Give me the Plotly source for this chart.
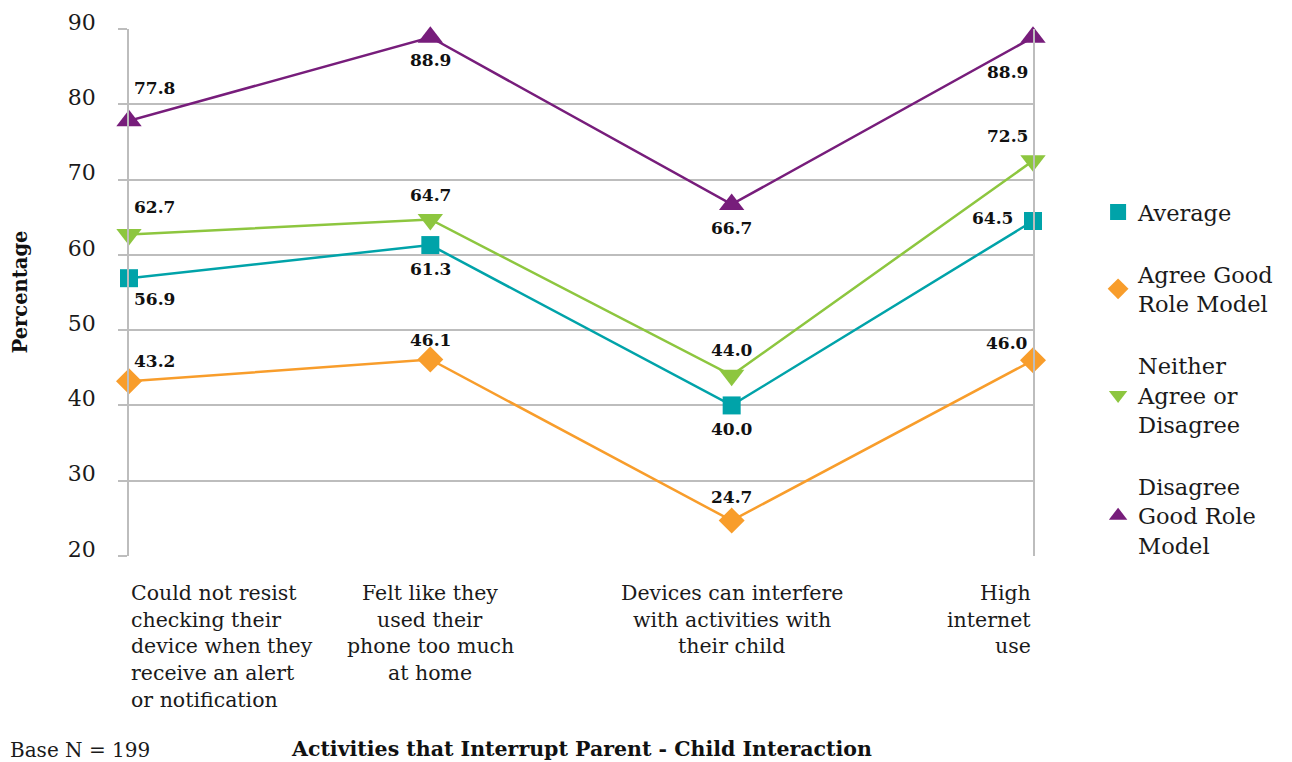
import plotly.graph_objects as go

# ---- data ----
categories = [
    "Could not resist<br>checking their<br>device when they<br>receive an alert<br>or notification",
    "Felt like they<br>used their<br>phone too much<br>at home",
    "Devices can interfere<br>with activities with<br>their child",
    "High<br>internet<br>use",
]
series_names = [
    "Average",
    "Agree Good<br>Role Model",
    "Neither<br>Agree or<br>Disagree",
    "Disagree<br>Good Role<br>Model",
]
average = [56.9, 61.3, 40.0, 64.5]
agree_good = [43.2, 46.1, 24.7, 46.0]
neither = [62.7, 64.7, 44.0, 72.5]
disagree_good = [77.8, 88.9, 66.7, 88.9]
y_tick_values = [20, 30, 40, 50, 60, 70, 80, 90]
y_title = "Percentage"
x_title = "Activities that Interrupt Parent - Child Interaction"
base_note = "Base N = 199"

# ---- styles ----
FONT = "DejaVu Serif"
colors = ["#00A3A9", "#F89D2B", "#8DC63F", "#771D7B"]
symbols = ["square", "diamond", "triangle-down", "triangle-up"]
sizes = [18, 20, 22, 22]
series_values = [average, agree_good, neither, disagree_good]
# (xanchor, xshift, yshift) for each point's data label
label_pos = [
    [("left", 3, -21), ("center", 0, -24), ("center", 0, -24), ("right", -18, 3)],
    [("left", 3, 20), ("center", 0, 20), ("center", 0, 24), ("right", -3, 17)],
    [("left", 3, 28), ("center", 0, 24), ("center", 0, 25), ("right", -3, 25)],
    [("left", 3, 33), ("center", 0, -23), ("center", 0, -24), ("right", -3, -35)],
]
cat_anchor = ["left", "center", "center", "right"]

fig = go.Figure()
annotations = []

for i in range(4):
    fig.add_trace(go.Scatter(
        x=categories, y=series_values[i], mode="lines+markers",
        line=dict(color=colors[i], width=2.5),
        marker=dict(symbol=symbols[i], size=sizes[i], color=colors[i]),
        showlegend=False, cliponaxis=False, hoverinfo="skip",
    ))
    # legend-only trace (marker only)
    fig.add_trace(go.Scatter(
        x=[None], y=[None], mode="markers", name=series_names[i],
        marker=dict(symbol=symbols[i], size=sizes[i], color=colors[i]),
        legendgroup=f"g{i}", showlegend=True,
    ))
    for j, v in enumerate(series_values[i]):
        xa, xs, ys = label_pos[i][j]
        annotations.append(dict(
            x=categories[j], y=v, xref="x", yref="y", text=f"{v:.1f}",
            showarrow=False, xanchor=xa, yanchor="middle", xshift=xs, yshift=ys,
            font=dict(family=FONT, size=17, color="#111111", weight="bold"),
        ))

# category labels, one annotation per line for wider line spacing
for j, cat in enumerate(categories):
    for k, line in enumerate(cat.split("<br>")):
        annotations.append(dict(
            x=categories[j], y=0, xref="x", yref="paper", text=line,
            showarrow=False, xanchor=cat_anchor[j], yanchor="middle",
            yshift=-37 - k * 26.7,
            font=dict(family=FONT, size=20.5, color="#1a1a1a"),
        ))

annotations.append(dict(
    x=0, y=0.5, xref="paper", yref="paper", text=y_title, textangle=-90,
    showarrow=False, xanchor="center", yanchor="middle", xshift=-109, yshift=0,
    font=dict(family=FONT, size=19.5, color="#111111", weight="bold"),
))
annotations.append(dict(
    x=0.5, y=0, xref="paper", yref="paper", text=x_title,
    showarrow=False, xanchor="center", yanchor="middle", yshift=-193,
    font=dict(family=FONT, size=20.5, color="#111111", weight="bold"),
))
annotations.append(dict(
    x=0, y=0, xref="paper", yref="paper", text=base_note,
    showarrow=False, xanchor="left", yanchor="middle", xshift=-121, yshift=-194,
    font=dict(family=FONT, size=20, color="#1a1a1a"),
))

fig.update_layout(
    width=1284, height=754,
    margin=dict(l=121, r=259, t=21, b=206, autoexpand=False),
    paper_bgcolor="white", plot_bgcolor="white",
    font=dict(family=FONT, size=20, color="#1a1a1a"),
    annotations=annotations,
    legend=dict(
        x=1.072, y=0.693, xanchor="left", yanchor="top",
        font=dict(family=FONT, size=22.5, color="#1a1a1a"),
        tracegroupgap=30, itemsizing="trace", bgcolor="rgba(0,0,0,0)",
    ),
    xaxis=dict(
        type="category", range=[0, 3], showticklabels=False, showgrid=False,
        zeroline=False, showline=False, ticks="", automargin=False,
    ),
    yaxis=dict(
        range=[20, 90], tickvals=y_tick_values, showgrid=True,
        gridcolor="#BDBDBD", gridwidth=1.5, zeroline=False,
        showline=True, linecolor="#BDBDBD", linewidth=1.5, mirror=True,
        ticks="outside", ticklen=9, tickcolor="#BDBDBD", tickwidth=1.5,
        ticklabelstandoff=18, ticklabelshift=-7, automargin=False,
        tickfont=dict(family=FONT, size=22, color="#1a1a1a"),
    ),
)

fig.write_html("out.html")
